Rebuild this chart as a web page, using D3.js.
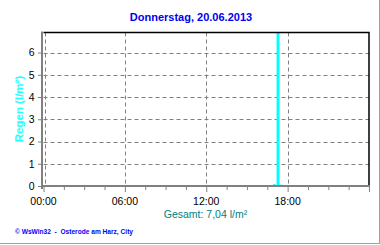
<!DOCTYPE html>
<html><head><meta charset="utf-8">
<script src="https://cdn.jsdelivr.net/npm/d3@7"></script>
<style>
html,body{margin:0;padding:0;background:#fff;}
svg{display:block;font-family:"Liberation Sans",Arial,sans-serif;}
</style></head>
<body>
<svg id="c" width="380" height="245"></svg>
<script>
// ---- data ----
const title = "Donnerstag, 20.06.2013";
const yLabel = "Regen (l/m²)";
const totalLabel = "Gesamt: 7,04 l/m²";
const footer = "© WsWin32  -  Osterode am Harz, City";
const barTimes = ["16:55", "17:11", "17:24"];   // start of interval
const barValues = [0.08, 6.9, 0.06];           // l/m²
const barMinutes = 13;
const yMax = 6.9;
const yTicks = [0, 1, 2, 3, 4, 5, 6];
const xTickHours = [0, 6, 12, 18];
const xTickLabels = ["00:00", "06:00", "12:00", "18:00"];
const xMinorStep = 1.5;

// ---- layout ----
const svg = d3.select("#c");
const L = 43.5, R = 369, T = 32.5, B = 186;
const x = d3.scaleLinear().domain([0, 24]).range([L, R]);
const y = d3.scaleLinear().domain([0, yMax]).range([B, T]);
const toH = s => { const [h, m] = s.split(":").map(Number); return h + m / 60; };
const gray = "#808080";

// outer frame shadow
svg.append("line").attr("x1", 379.5).attr("x2", 379.5).attr("y1", 0).attr("y2", 244).attr("stroke", "#a0a0a0").attr("stroke-width", 1);
svg.append("line").attr("x1", 0).attr("x2", 380).attr("y1", 243.5).attr("y2", 243.5).attr("stroke", "#a0a0a0").attr("stroke-width", 1);

// title
svg.append("text").attr("x", 191).attr("y", 21).attr("text-anchor", "middle")
  .attr("font-size", 11).attr("font-weight", "bold").attr("fill", "#0000f0").text(title);

// gridlines
const grid = svg.append("g").attr("stroke", gray).attr("stroke-width", 1).attr("stroke-dasharray", "4,3");
grid.selectAll("line.h").data(yTicks.filter(d => d > 0)).join("line")
  .attr("x1", L).attr("x2", R).attr("y1", d => Math.round(y(d)) + 0.5).attr("y2", d => Math.round(y(d)) + 0.5);
grid.selectAll("line.v").data(xTickHours).join("line")
  .attr("x1", d => Math.round(x(d)) + 0.5 + (d === 0 ? 1 : 0)).attr("x2", d => Math.round(x(d)) + 0.5 + (d === 0 ? 1 : 0))
  .attr("y1", T).attr("y2", B);

// bars
svg.append("g").attr("fill", "#00ffff").selectAll("rect").data(barTimes.map((t, i) => ({ t: toH(t), v: barValues[i] }))).join("rect")
  .attr("x", d => x(d.t)).attr("width", d => x(d.t + barMinutes / 60) - x(d.t))
  .attr("y", d => y(d.v)).attr("height", d => B - y(d.v));

// plot border top/right (black)
svg.append("path").attr("d", `M${L},${T}H${R}V${B}`).attr("fill", "none").attr("stroke", "#000").attr("stroke-width", 1.5);

// x axis
const xAxis = d3.axisBottom(x).tickValues(d3.range(0, 24 + 0.001, xMinorStep)).tickSize(4).tickFormat("");
const gx = svg.append("g").attr("transform", `translate(0,${B})`).call(xAxis);
gx.select(".domain").remove();
gx.selectAll(".tick line").attr("stroke", gray).attr("y2", d => (d % 6 === 0 ? 6 : 4));
svg.append("line").attr("x1", L - 1.5).attr("x2", R + 1).attr("y1", B).attr("y2", B).attr("stroke", gray).attr("stroke-width", 2);
svg.append("g").selectAll("text").data(xTickHours).join("text")
  .attr("x", d => x(d)).attr("y", 204.5).attr("text-anchor", "middle").attr("font-size", 10.5).attr("fill", "#000")
  .text((d, i) => xTickLabels[i]);

// y axis
const yAxis = d3.axisLeft(y).tickValues(yTicks).tickSize(4).tickFormat(d3.format("d"));
const gy = svg.append("g").attr("transform", `translate(${L - 1.5},0)`).call(yAxis);
gy.select(".domain").remove();
gy.selectAll(".tick line").attr("stroke", gray);
gy.selectAll(".tick text").attr("font-size", 10.5).attr("fill", "#000").attr("x", -7.5).attr("font-family", "Liberation Sans, Arial, sans-serif");
svg.append("line").attr("x1", L - 1.5).attr("x2", L - 1.5).attr("y1", T - 1).attr("y2", B + 3).attr("stroke", gray).attr("stroke-width", 2);

// y label
svg.append("text").attr("transform", "translate(23,109) rotate(-90)").attr("text-anchor", "middle")
  .attr("font-size", 11.5).attr("font-weight", "bold").attr("fill", "#22ffff").text(yLabel);

// total
svg.append("text").attr("x", 205.5).attr("y", 218).attr("text-anchor", "middle")
  .attr("font-size", 10.5).attr("fill", "#008080").text(totalLabel);

// footer
svg.append("text").attr("x", 15).attr("y", 233.5).attr("font-size", 7.5).attr("font-weight", "bold")
  .style("white-space", "pre")
  .attr("fill", "#0000ff").attr("textLength", 118).attr("lengthAdjust", "spacingAndGlyphs").text(footer);
</script>
</body></html>
